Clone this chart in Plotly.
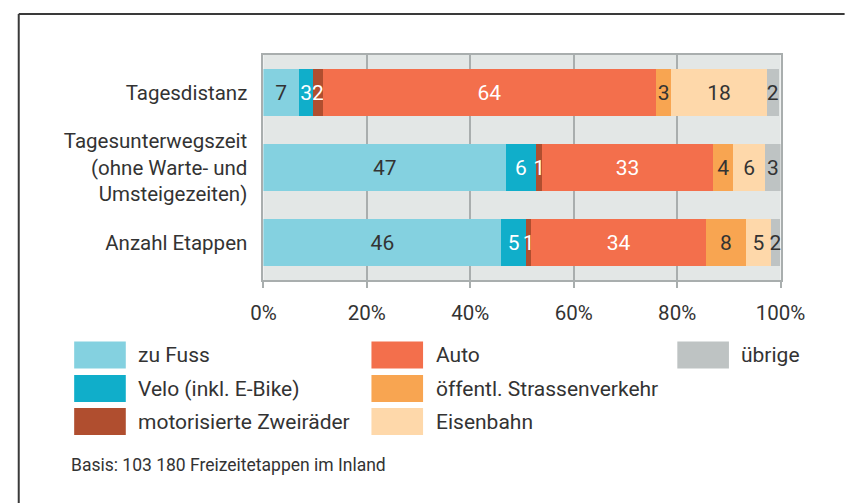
import plotly.graph_objects as go

W, H = 861, 503

categories = ["Tagesdistanz",
              "Tagesunterwegszeit<br>(ohne Warte- und<br>Umsteigezeiten)",
              "Anzahl Etappen"]

series_names = ["zu Fuss", "Velo (inkl. E-Bike)", "motorisierte Zweiräder",
                "Auto", "öffentl. Strassenverkehr", "Eisenbahn", "übrige"]

zu_fuss = [6.9, 46.9, 46.0]
velo = [2.7, 5.8, 4.8]
moto = [1.9, 1.2, 1.0]
auto = [64.4, 33.0, 33.8]
oev = [3.0, 4.0, 7.7]
eisenbahn = [18.4, 6.1, 4.8]
uebrige = [2.4, 3.0, 1.8]

labels_zu_fuss = ["7", "47", "46"]
labels_velo = ["3", "6", "5"]
labels_moto = ["2", "1", "1"]
labels_auto = ["64", "33", "34"]
labels_oev = ["3", "4", "8"]
labels_eisenbahn = ["18", "6", "5"]
labels_uebrige = ["2", "3", "2"]

x_ticks = [0, 20, 40, 60, 80, 100]
x_tick_labels = ["0%", "20%", "40%", "60%", "80%", "100%"]

colors = ["#84d1e0", "#10aeca", "#b04e2f", "#f36f4c", "#f8a551", "#fed8aa", "#bec3c3"]
text_colors = ["#333333", "#ffffff", "#ffffff", "#ffffff", "#333333", "#333333", "#333333"]

values = [zu_fuss, velo, moto, auto, oev, eisenbahn, uebrige]
labels = [labels_zu_fuss, labels_velo, labels_moto, labels_auto, labels_oev,
          labels_eisenbahn, labels_uebrige]

FONT = "Roboto, Arial, sans-serif"
TXT = "#333333"

fig = go.Figure()
for name, vals, labs, col, tcol in zip(series_names, values, labels, colors, text_colors):
    fig.add_trace(go.Bar(
        y=categories, x=vals, name=name, orientation="h",
        marker=dict(color=col, line=dict(width=0)),
        text=labs, textposition="inside", insidetextanchor="middle",
        textangle=0, textfont=dict(color=tcol, size=21, family=FONT),
        hoverinfo="skip",
    ))

def px(x):
    return x / W

def py(y):
    return 1 - y / H

GRID = "#a9aeae"
fig.update_layout(
    barmode="stack",
    bargap=0.37,
    width=W, height=H,
    margin=dict(l=0, r=0, t=0, b=0),
    paper_bgcolor="white",
    plot_bgcolor="#e3e7e6",
    showlegend=False,
    font=dict(family=FONT, color=TXT, size=20),
    uniformtext=dict(mode="show", minsize=21),
    xaxis=dict(
        domain=[px(262), px(803)], range=[0, 100],
        tickvals=x_ticks, ticktext=x_tick_labels,
        showgrid=True, gridcolor=GRID, gridwidth=2,
        showline=True, linecolor=GRID, linewidth=2, mirror=True,
        ticks="outside", ticklen=6, tickcolor=GRID, tickwidth=2,
        ticklabelstandoff=7,
        tickfont=dict(size=20.5, color=TXT, family=FONT),
        zeroline=False, fixedrange=True,
    ),
    yaxis=dict(
        domain=[py(280), py(55)],
        autorange="reversed",
        showline=True, linecolor=GRID, linewidth=2, mirror=True,
        ticks="", ticklabelstandoff=10,
        tickfont=dict(size=20.5, color=TXT, family=FONT),
        fixedrange=True,
    ),
)

shapes = []
annotations = []

# frame
shapes.append(dict(type="line", xref="paper", yref="paper",
                   x0=px(6), x1=px(870), y0=py(14), y1=py(14),
                   line=dict(color="#3a3a3a", width=2)))
shapes.append(dict(type="line", xref="paper", yref="paper",
                   x0=px(6), x1=px(6), y0=py(14), y1=py(510),
                   line=dict(color="#3a3a3a", width=2)))

# custom legend (column-major, 3 columns)
legend_cols = [[0, 1, 2], [3, 4, 5], [6]]
col_x = [64, 375, 695]
row_y = [355, 388.5, 421.5]
sw_w, sw_h = 54, 27
for ci, idxs in enumerate(legend_cols):
    for ri, idx in enumerate(idxs):
        x0 = col_x[ci]
        yc = row_y[ri]
        shapes.append(dict(type="rect", xref="paper", yref="paper",
                           x0=px(x0), x1=px(x0 + sw_w),
                           y0=py(yc + sw_h / 2), y1=py(yc - sw_h / 2),
                           fillcolor=colors[idx], line=dict(width=0)))
        annotations.append(dict(xref="paper", yref="paper",
                                x=px(x0 + sw_w + 11), y=py(yc),
                                text=series_names[idx], showarrow=False,
                                xanchor="left", yanchor="middle",
                                font=dict(size=21, color=TXT, family=FONT)))

annotations.append(dict(xref="paper", yref="paper", x=px(59), y=py(465),
                        text="Basis: 103 180 Freizeitetappen im Inland",
                        showarrow=False, xanchor="left", yanchor="middle",
                        font=dict(size=17.5, color=TXT, family=FONT)))

fig.update_layout(shapes=shapes, annotations=annotations)

fig.write_html("out.html",
               config={"displayModeBar": False, "staticPlot": True},
               post_script="document.body.style.margin='0';document.body.style.overflow='hidden';")
